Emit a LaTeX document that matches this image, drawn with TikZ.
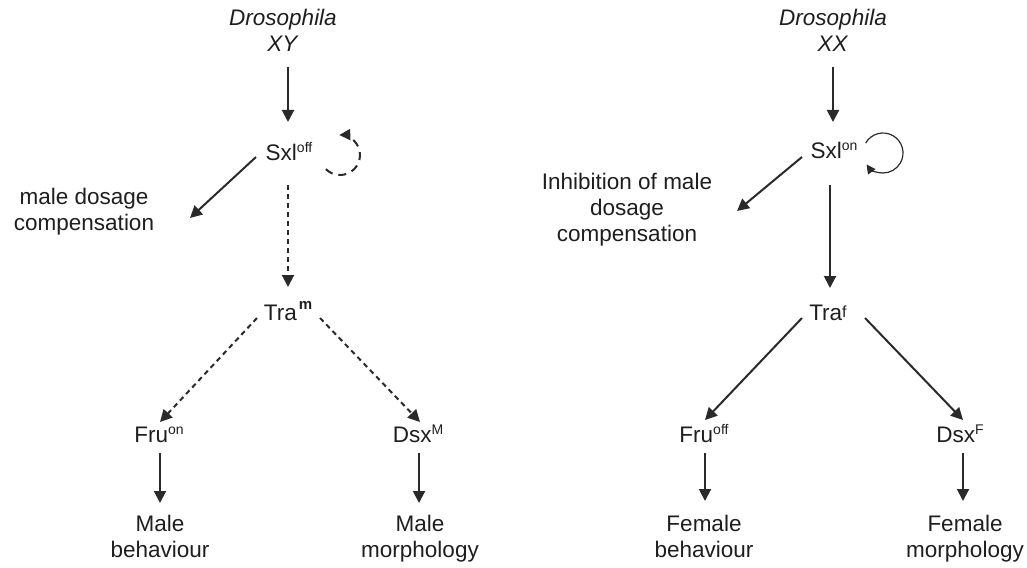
\documentclass[tikz,border=0pt]{standalone}
\usepackage{fontspec}
\setmainfont{Liberation Sans}
\usetikzlibrary{arrows.meta,calc}
\definecolor{ink}{HTML}{1E1E1E}
\definecolor{lin}{HTML}{2A2A2A}
\newcommand\spr[1]{\raisebox{8pt}{\fontsize{14}{14}\selectfont #1}}
\begin{document}
\begin{tikzpicture}[x=1pt,y=-1pt,
  lbl/.style={font=\fontsize{22.5}{26}\selectfont, align=center, inner sep=0pt, text=ink},
  arr/.style={line width=2pt, draw=lin, -{Triangle[length=12pt,width=12pt]}},
  dsh/.style={arr, dash pattern=on 5pt off 4pt}]
\useasboundingbox (0,0) rectangle (1027,567);
% left
\node[lbl] (dxy) at (283,33) {\strut\textit{Drosophila}\\\strut\textit{XY}};
\node[lbl] (sxlL) at (289,155) {\strut Sxl\spr{off}};
\node[lbl] (mdc) at (84,212) {\strut male dosage\\\strut compensation};
\node[lbl] (traL) at (288,315) {\strut Tra\hspace{2pt}\raisebox{11pt}{\fontsize{15}{15}\selectfont\bfseries m}};
\node[lbl] (fruL) at (159,437) {\strut Fru\spr{on}};
\node[lbl] (dsxL) at (418,437) {\strut Dsx\spr{M}};
\node[lbl] (mb) at (160,539) {\strut Male\\\strut behaviour};
\node[lbl] (mm) at (420,539) {\strut Male\\\strut morphology};
% right
\node[lbl] (dxx) at (833,33) {\strut\textit{Drosophila}\\\strut\textit{XX}};
\node[lbl] (sxlR) at (834,153) {\strut Sxl\spr{on}};
\node[lbl] (imdc) at (627,210) {\strut Inhibition of male\\\strut dosage\\\strut compensation};
\node[lbl] (traR) at (828,315) {\strut Tra\raisebox{3pt}{\fontsize{16}{16}\selectfont f}};
\node[lbl] (fruR) at (704,437) {\strut Fru\spr{off}};
\node[lbl] (dsxR) at (960,437) {\strut Dsx\spr{F}};
\node[lbl] (fb) at (704,539) {\strut Female\\\strut behaviour};
\node[lbl] (fm) at (965,539) {\strut Female\\\strut morphology};
% left connectors
\draw[arr] ($(dxy)+(5,34)$) -- ($(sxlL)+(-1,-33)$);
\draw[arr] ($(sxlL)+(-33,2)$) -- ($(mdc)+(106,6)$);
\draw[dsh] ($(sxlL)+(-1,30)$) -- ($(traL)+(0,-28)$);
\draw[dsh] ($(traL)+(-31,3)$) -- ($(fruL)+(1,-15)$);
\draw[dsh] ($(traL)+(32,3)$) -- ($(dsxL)+(2,-15)$);
\draw[arr] ($(fruL)+(1,16)$) -- ($(mb)+(0,-36)$);
\draw[arr] ($(dsxL)+(1,16)$) -- ($(mm)+(-1,-36)$);
\draw[line width=2pt, draw=lin, dash pattern=on 8pt off 6pt, -{Triangle[length=11pt,width=11pt]}]
  ($(sxlL)+(51,0)+(-225:20)$) arc[start angle=-225, end angle=-452, radius=20];
% right connectors
\draw[arr] ($(dxx)+(0,34)$) -- ($(sxlR)+(-1,-31)$);
\draw[arr] ($(sxlR)+(-32,4)$) -- ($(imdc)+(110,1)$);
\draw[arr] ($(sxlR)+(-4,32)$) -- ($(traR)+(2,-27)$);
\draw[arr] ($(traR)+(-26,3)$) -- ($(fruR)+(1,-17)$);
\draw[arr] ($(traR)+(37,3)$) -- ($(dsxR)+(3,-17)$);
\draw[arr] ($(fruR)+(1,16)$) -- ($(fb)+(1,-38)$);
\draw[arr] ($(dsxR)+(3,16)$) -- ($(fm)+(-2,-38)$);
\draw[line width=1.2pt, draw=lin, -{Triangle[length=9pt,width=9pt]}]
  ($(sxlR)+(49,0)+(-150:20)$) arc[start angle=-150, end angle=145, radius=20];
\end{tikzpicture}
\end{document}
